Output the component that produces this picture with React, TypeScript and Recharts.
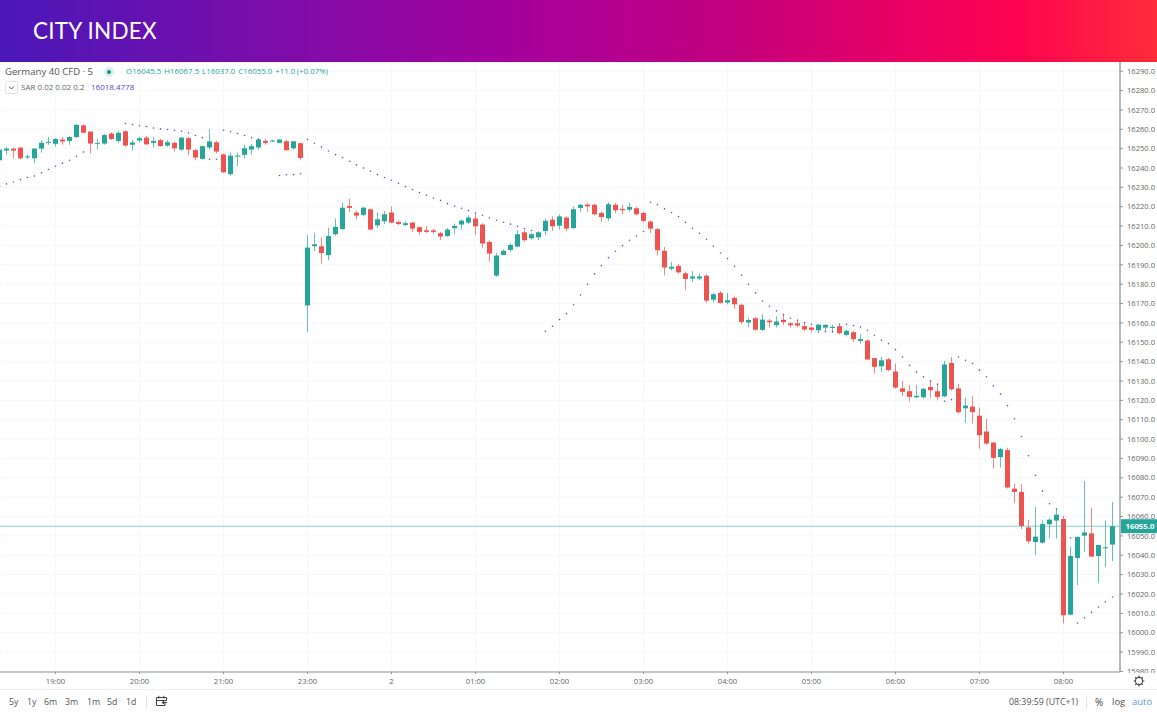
import React from "react";
import { ComposedChart, Bar, Line, XAxis, YAxis, CartesianGrid, ReferenceLine } from "recharts";

const opens = [16244,16249,16250,16250.5,16245.5,16245,16250,16253,16252.5,16254.7,16254,16256,16262,16258.8,16253,16252.6,16257.8,16254,16259,16252,16254.2,16255.7,16253,16254.4,16251.6,16253,16249.5,16255.4,16249.2,16244.7,16250.6,16253.3,16247,16236.8,16246,16246.8,16249.5,16250.6,16254,16253.8,16253,16253.8,16250.2,16252.8,
16169,16199.6,16199.6,16195,16205.8,16208.5,16220.4,16217,16215.8,16218.7,16210.4,16212.5,16217,16212.1,16210.6,16211.8,16209.4,16207.8,16207.8,16206.3,16204.9,16208.9,16210.8,16211.8,16213.9,16210.8,16201.8,16184.4,16195.1,16197.7,16199.4,16206.8,16203.7,16204.2,16207.5,16213.3,16210.2,16214.4,16209,16219.4,16221.1,
16221,16216.8,16214,16221,16218.9,16218.5,16219.2,16216.8,16212.3,16208.4,16197.2,16188,16189.4,16185.6,16182.9,16182.9,16184.4,16172,16175.5,16170.5,16172.9,16169.3,16160.2,16162.4,16156.4,16161.2,16158.8,16161.6,16159.8,16159.8,
16158.3,16157.6,16156.2,16157.6,16157.6,16158.3,16153.8,16155.2,16150.7,16150.9,16141.8,16137.6,16141.2,16134.9,16126.2,16124.7,16121.6,16121.6,16126.9,16124.7,16122.1,16139.3,16126.2,16115.9,16116.8,16112.1,16103.9,16098.2,16090.7,
16094.3,16074.4,16072.7,16054.4,16046.8,16046.5,16056,16057.9,16058.7,16009.3,16038.6,16050.1,16051.3,16039.6,16043.7,16045.5];
const highs = [16250,16251,16250.5,16251,16247,16250.5,16254.5,16256,16255.5,16256,16256.5,16262.5,16262.5,16259,16255,16257.5,16258.5,16259,16259.5,16254.5,16256,16256.5,16256,16255,16254.5,16253.5,16256,16256,16250,16251.5,16260,16254,16247.5,16248,16248,16252,16252.5,16255.5,16255,16254.5,16255,16254.5,16254,16253,
16205.3,16206.6,16204,16209.2,16213.9,16222,16224.2,16218,16220,16219,16217.3,16217.8,16220.2,16213,16212.5,16212.2,16209.8,16210,16208.5,16207,16209,16211.3,16213.5,16215.5,16216.4,16211.5,16202.5,16196,16198,16201,16207.8,16208,16206.5,16207.3,16213.9,16215,16216,16215,16220.2,16221.5,16222,
16221.5,16217.5,16222.3,16222,16221,16222,16220,16217.5,16213,16209,16199.2,16191.5,16190.5,16186.5,16186.8,16185.5,16185,16175.5,16176.5,16175.5,16174,16170,16162.5,16163,16164.5,16162,16163.4,16164.5,16160.5,16161.7,
16160.5,16158,16159.5,16159.3,16159,16159.3,16156.5,16156,16154.2,16151.5,16142,16142.4,16142,16139,16130,16127.8,16127.8,16126.5,16130.4,16128.7,16140.4,16142.4,16128.3,16121.4,16122.1,16116.3,16110.6,16098.7,16095.5,
16095.5,16077,16076.8,16058.2,16065,16058,16059,16064.2,16060.3,16044.4,16049.8,16078.3,16064.6,16045.5,16057.9,16067.5];
const lows = [16243,16247,16245,16244.5,16244.5,16242.5,16248,16252,16251,16252,16252,16255.5,16258,16247.5,16249.5,16252,16254.5,16253,16251,16249,16253,16252,16250.5,16251,16251,16248.5,16249,16246.5,16244,16244.3,16249.5,16247.5,16237.5,16236,16241,16245,16247,16249.5,16252,16253.5,16252.8,16249,16249.5,16244,
16155.3,16197,16190.6,16192.3,16205,16208,16217.3,16213.4,16215,16207.9,16209,16211,16211.5,16210.5,16210,16207,16205.6,16206.5,16205.8,16202.7,16204.5,16206,16208.2,16211,16205.3,16198.9,16191.5,16183.8,16195,16196.5,16199,16202,16203,16202.7,16205.3,16207.5,16208.2,16207.5,16208.5,16217.3,16217.3,
16215.5,16212.1,16212.7,16216.8,16216.1,16217.5,16215.5,16212,16206.5,16194.8,16184.6,16187,16185.5,16176.8,16181.1,16182,16170.3,16170.6,16170,16169.6,16167.4,16159.3,16157.9,16156,16155.8,16157.6,16157.6,16158.8,16157.6,16157.6,
16156,16155,16155.5,16155.9,16154.8,16154,16153,16150.2,16149.3,16140.7,16133.8,16134.7,16135,16126,16122.1,16119.2,16121,16121,16121.4,16120,16121.5,16125,16113,16108.4,16108,16095,16097,16084.8,16085.3,
16074.5,16066.8,16053.4,16046.1,16040,16046,16048.7,16048.7,16004.8,16009,16024.6,16041.8,16039,16025.5,16034,16037];
const closes = [16249.5,16250,16249,16245,16246,16250,16253,16253.5,16255,16253.7,16256,16262.3,16258.2,16252.6,16253,16257,16255,16258.2,16251.6,16253.2,16255.4,16252.2,16254,16251.3,16253.3,16250.2,16255.7,16249.5,16245.4,16251.3,16253.7,16248.5,16237.8,16246.4,16246.4,16250.2,16251.3,16254.7,16253,16254.2,16254.7,16249.2,16253.8,16245.2,
16198.9,16200.6,16196.1,16204.9,16209.6,16219.5,16219.4,16215.4,16219.5,16208.2,16213.5,16216.1,16211.8,16211.1,16211.5,16208.7,16207,16207,16207,16204.6,16208.2,16210.1,16212.8,16214.4,16209.9,16201,16195.8,16194.8,16197.2,16200.3,16205.8,16202.7,16205.8,16206.8,16212.7,16209.9,16215,16208.7,16218.7,16221,16220.2,
16216.1,16214.7,16221.3,16218.2,16218.2,16219.9,16216.1,16212.7,16208.7,16197.5,16188.6,16189,16186.1,16182.7,16184,16184,16171.5,16174.8,16170.3,16171.7,16169.6,16160.5,16161.5,16156.5,16161.7,16160.3,16160.7,16160.4,16158.8,16158.6,
16156.6,16156.4,16159.1,16159,16157.9,16154.7,16155.9,16151.6,16151.6,16141.1,16137.3,16140.7,16135.7,16126.6,16124.4,16121.8,16122.3,16126,16125.2,16121.8,16138.5,16125.7,16113.9,16117.3,16113.9,16102,16097.7,16090.3,16094.8,
16075,16072.7,16055.1,16047.2,16049.6,16056.1,16058.4,16061,16009,16039.6,16049.4,16051.8,16039.3,16045.3,16044.1,16055];
const sar: (number | null)[] = [16230.6,16231.8,16232.8,16234,16235.1,16235.9,16237.5,16239.2,16240.9,16242.5,16244,16246.1,16248.3,null,null,null,null,null,
16263,16262.5,16261.8,16261.4,16260.7,16260.2,16259.9,16259.4,16259,16258.1,16256.8,16255.7,16244.5,16244.5,16259.5,16258.7,16257.8,16256.8,16255.7,16254.7,null,null,
16236.1,16236.5,16236.6,16237,16254.7,16252.8,16250.9,16248.8,16246.9,16245.4,16243.5,16241.6,16240,16238.3,16236.6,16235.1,16233.7,16232.1,16230.4,16228.9,16227.3,16225.9,16224.5,16223.3,16221.6,16220.4,16219.2,16218,16216.8,16215.6,16214.2,16213,16212,16211,16209.9,16208.7,16207.7,null,
16155.7,16158.3,16161.7,16164.8,16169.4,16174.4,16180,16185.3,16189.6,16193.7,16197,16199.9,16202.7,16204.9,16207.2,
16222.3,16221.1,16218.9,16217,16214.9,16212,16208.9,16206.3,16203.2,16199.6,16196.1,16193.2,16189.2,16184.6,16180,16175.5,16171.3,16168.6,16166.2,16164.3,16162.4,16161.4,16160.2,16159.3,
16155.3,16155.5,16155.5,16159.3,16159.3,16158.6,16157.9,16156.2,16153.6,16151,16149.3,16146.2,16142.4,16138.1,16134.7,16132.1,16130,16128.3,16119.5,16120.4,
16142.4,16140.7,16139,16135.6,16132.2,16127.5,16123.2,16117.3,16110.5,16101.3,16091.4,16081.2,16073.1,16066.6,16063.9,null,16048.9,16005,16007.7,16010.5,16013.3,16015.8,16018.4];

const timeTicks = [8,20,32,44,56,68,80,92,104,116,128,140,152];
const timeLabels = ["19:00","20:00","21:00","23:00","2","01:00","02:00","03:00","04:00","05:00","06:00","07:00","08:00"];
const priceTicks: number[] = [15980,15990,16000,16010,16020,16030,16040,16050,16060,16070,16080,16090,16100,16110,16120,16130,16140,16150,16160,16170,16180,16190,16200,16210,16220,16230,16240,16250,16260,16270,16280,16290];
const lastPrice = 16055;
const ranges = ["5y","1y","6m","3m","1m","5d","1d"];
const rangeX = [9,27,44,65,87,107,126];

const data = opens.map((o, i) => ({ idx: i, open: o, high: highs[i], low: lows[i], close: closes[i], sar: sar[i] }));

const UP = "#26a69a";
const DOWN = "#ef5350";
const FONT = "'Open Sans', sans-serif";

function Candle(props: any) {
  const { x, y, width, height, payload } = props;
  if (y == null || !height) return null;
  const top = Math.min(y, y + height);
  const h = Math.abs(height);
  const span = payload.high - payload.low;
  const py = (p: number) => top + ((payload.high - p) / span) * h;
  const up = payload.close >= payload.open;
  const color = up ? UP : DOWN;
  const bt = py(Math.max(payload.open, payload.close));
  const bb = py(Math.min(payload.open, payload.close));
  const cx = x + width / 2;
  return (
    <g>
      <line x1={cx} x2={cx} y1={top} y2={top + h} stroke={color} strokeWidth={1} strokeOpacity={0.7} />
      <rect x={cx - 2.5} y={bt} width={5} height={Math.max(bb - bt, 1)} fill={color} />
    </g>
  );
}

function PriceTag(props: any) {
  const { viewBox } = props;
  const y = viewBox.y;
  const x = viewBox.x + viewBox.width;
  return (
    <g>
      <rect x={x + 1} y={y - 7} width={36} height={14} fill={UP} />
      <text x={x + 20} y={y + 3} textAnchor="middle" fontSize={7.8} fontWeight={700} fill="#fff" fontFamily={FONT}>
        {lastPrice.toFixed(1)}
      </text>
    </g>
  );
}

const abs = (left: number, top: number, extra: React.CSSProperties = {}): React.CSSProperties => ({
  position: "absolute", left, top, whiteSpace: "nowrap", fontFamily: FONT, lineHeight: 1, ...extra,
});

export default function App() {
  return (
    <div style={{ position: "absolute", left: 0, top: 0, width: 1157, height: 720, background: "#fff", overflow: "hidden" }}>
      <ComposedChart width={1157} height={720} data={data} margin={{ top: 62, right: 0, bottom: 30, left: 0 }} style={{ position: "absolute", left: 0, top: 0 }}>
        <CartesianGrid stroke="#f6f7f9" strokeWidth={1} />
        <XAxis
          dataKey="idx"
          type="number"
          domain={[1 / 14, 160 + 1 / 14]}
          allowDataOverflow
          ticks={timeTicks}
          tickFormatter={(v: number) => timeLabels[timeTicks.indexOf(v)]}
          height={18}
          axisLine={{ stroke: "#8f939c", strokeWidth: 1 }}
          tickLine={{ stroke: "#8f939c" }}
          tickSize={2}
          tick={{ fontSize: 7.6, fill: "#666", fontFamily: FONT, dy: 3 }}
          interval={0}
        />
        <YAxis
          orientation="right"
          type="number"
          domain={[15979.7, 16294.75]}
          allowDataOverflow
          ticks={priceTicks}
          tickFormatter={(v: number) => v.toFixed(1)}
          width={37}
          axisLine={{ stroke: "#9a9da5", strokeWidth: 1.4 }}
          tickLine={{ stroke: "#8f939c" }}
          tickSize={3}
          tick={{ fontSize: 7.6, fill: "#666", fontFamily: FONT, dx: 2 }}
          interval={0}
        />
        <ReferenceLine y={lastPrice} stroke={UP} strokeOpacity={0.55} strokeWidth={1} label={<PriceTag />} />
        <Bar dataKey={(d: any) => [d.low, d.high]} barSize={5} shape={<Candle />} isAnimationActive={false} />
        <Line dataKey="sar" stroke="none" dot={{ r: 0.8, fill: "#5a54c4", stroke: "none" }} activeDot={false} isAnimationActive={false} connectNulls={false} />
      </ComposedChart>

      <div style={{ position: "absolute", left: 0, top: 0, width: 1157, height: 62, background: "linear-gradient(90deg,#4a17b8 0%,#8a0aa6 30%,#a8009a 46%,#c00080 62%,#e80064 78%,#ff0450 88%,#ff2c3a 100%)" }} />
      <div style={abs(33, 19.5, { fontSize: 22.5, color: "#fff", fontFamily: "Lato, sans-serif", letterSpacing: 0.2 })}>CITY INDEX</div>

      <div style={abs(5, 67, { fontSize: 9.6, color: "#555" })}>Germany 40 CFD · 5</div>
      <div style={{ position: "absolute", left: 104, top: 67, width: 10, height: 10, borderRadius: 5, background: "#d9f0ed" }} />
      <div style={{ position: "absolute", left: 107, top: 70, width: 4, height: 4, borderRadius: 2, background: "#0f8f80" }} />
      <div style={abs(126, 68, { fontSize: 7.9, color: UP, wordSpacing: -0.6 })}>O16045.5&nbsp; H16067.5&nbsp; L16037.0&nbsp; C16055.0&nbsp; +11.0 (+0.07%)</div>

      <div style={{ position: "absolute", left: 5, top: 81, width: 11, height: 11, border: "1px solid #e3e3e3", borderRadius: 2 }} />
      <svg style={{ position: "absolute", left: 5, top: 81 }} width={13} height={13}><path d="M4 5.5 L6.5 8 L9 5.5" fill="none" stroke="#555" strokeWidth={1} /></svg>
      <div style={abs(21, 82.5, { fontSize: 8, color: "#666" })}>SAR 0.02 0.02 0.2</div>
      <div style={abs(91, 82.5, { fontSize: 8, color: "#4f49c6" })}>16018.4778</div>

      <div style={{ position: "absolute", left: 1121, top: 673, width: 36, height: 17, background: "#fff" }} />
      <svg style={{ position: "absolute", left: 1133, top: 675 }} width={12} height={12}>
        <circle cx={6} cy={6} r={3.6} fill="none" stroke="#444" strokeWidth={1.1} />
        <path d="M6 0.6V2.4M6 9.6V11.4M0.6 6H2.4M9.6 6H11.4M2.2 2.2L3.4 3.4M8.6 8.6L9.8 9.8M2.2 9.8L3.4 8.6M8.6 3.4L9.8 2.2" stroke="#444" strokeWidth={1.1} />
      </svg>
      <div style={{ position: "absolute", left: 0, top: 689, width: 1157, height: 1, background: "#eceef2" }} />

      {ranges.map((r, i) => (
        <div key={r} style={abs(rangeX[i], 697.5, { fontSize: 8.8, color: "#555" })}>{r}</div>
      ))}
      <div style={{ position: "absolute", left: 146, top: 695, width: 1, height: 14, background: "#e6e6e6" }} />
      <svg style={{ position: "absolute", left: 155, top: 695 }} width={13} height={12}>
        <path d="M4 2.5H1.5V10.5H10V8M4 2.5H11.5V5.5H1.5M3.8 0.8V3.6M9 0.8V3.6M7 7.5H12M9.5 5.8L7 7.5L9.5 9.2" fill="none" stroke="#444" strokeWidth={1} />
      </svg>
      <div style={abs(1009, 697.5, { fontSize: 8.8, color: "#555" })}>08:39:59 (UTC+1)</div>
      <div style={{ position: "absolute", left: 1086, top: 695, width: 1, height: 14, background: "#e6e6e6" }} />
      <div style={abs(1095, 696.5, { fontSize: 10, color: "#444" })}>%</div>
      <div style={abs(1112, 697, { fontSize: 9.5, color: "#555" })}>log</div>
      <div style={abs(1132, 697, { fontSize: 9.5, color: "#5b9bd8" })}>auto</div>
    </div>
  );
}
